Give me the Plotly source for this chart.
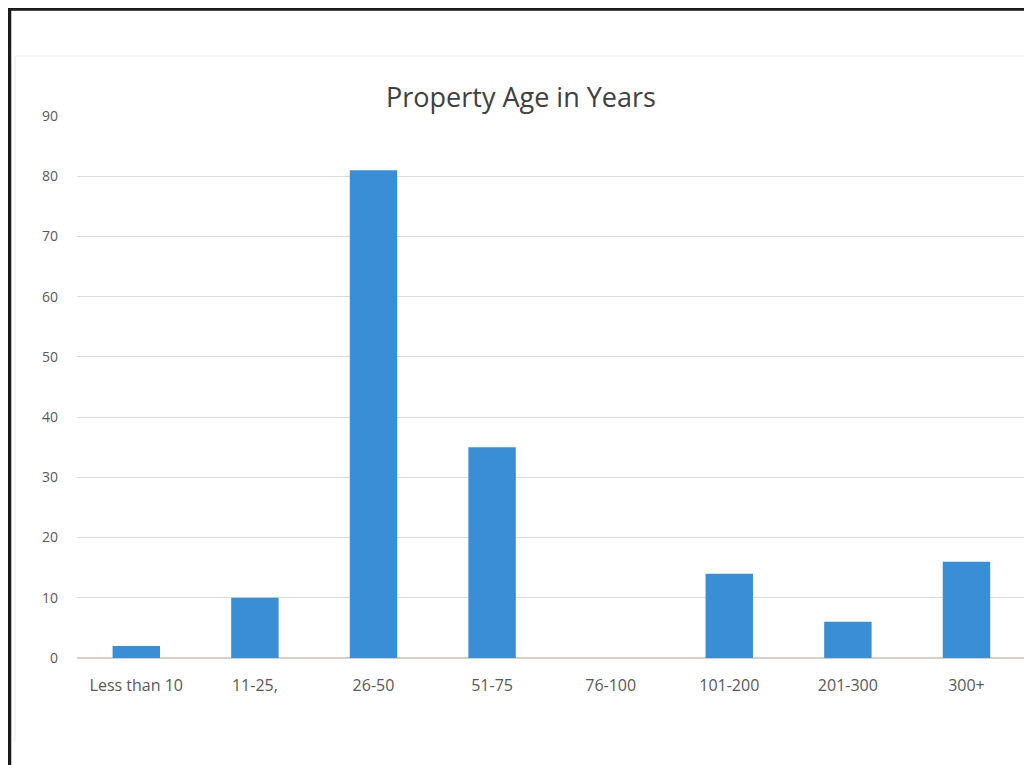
import plotly.graph_objects as go

categories = ["Less than 10", "11-25,", "26-50", "51-75", "76-100", "101-200", "201-300", "300+"]
values = [2, 10, 81, 35, 0, 14, 6, 16]
y_ticks = [0, 10, 20, 30, 40, 50, 60, 70, 80, 90]
title_text = "Property Age in Years"

W, H = 1032, 765
DX, DY = 8, 7  # page offset of the figure in the browser
x0, x1 = 77 - DX, 1032
y_top, y_bot = 115 - DY, 657 - DY

fig = go.Figure(go.Bar(
    x=categories, y=values,
    marker=dict(color="#3a8ed6", line=dict(width=0)),
))

fig.update_layout(
    width=W, height=H,
    margin=dict(l=0, r=0, t=0, b=0, autoexpand=False),
    paper_bgcolor="white", plot_bgcolor="white",
    bargap=0.6,
    showlegend=False,
    title=dict(text=title_text, x=(521 - DX) / W, xanchor="center", y=1 - (97 - DY) / H, yanchor="middle",
               font=dict(family="Open Sans", size=27, color="#404040")),
    font=dict(family="Open Sans", color="#595959"),
)
fig.update_xaxes(
    domain=[x0 / W, x1 / W],
    range=[-0.5, 7.62],
    showgrid=False, showline=False, zeroline=False,
    ticks="", tickfont=dict(family="Open Sans", size=16, color="#595959"),
    ticklabelstandoff=16,
    automargin=False,
)
fig.update_yaxes(
    domain=[1 - y_bot / H, 1 - y_top / H],
    range=[0, 90],
    tickvals=y_ticks,
    showgrid=True, gridcolor="#dcdcdc", gridwidth=1,
    zeroline=True, zerolinecolor="#d6cfc6", zerolinewidth=1.5,
    showline=False, ticks="",
    tickfont=dict(family="Open Sans", size=14, color="#595959"),
    ticklabelstandoff=18,
    automargin=False,
)

# outer black frame (left and top edges)
fig.add_shape(type="path", xref="paper", yref="paper",
              path=f"M {(9.5-DX)/W} 0 L {(9.5-DX)/W} {1-(8-DY)/H} L 1 {1-(8-DY)/H}",
              line=dict(color="#1a1a1a", width=3.5))
# faint inner chart border
fig.add_shape(type="path", xref="paper", yref="paper",
              path=f"M {(15-DX)/W} {1-(740-DY)/H} L {(15-DX)/W} {1-(55-DY)/H} L 1 {1-(55-DY)/H}",
              line=dict(color="#ececec", width=1))

fig.write_html("out.html")
